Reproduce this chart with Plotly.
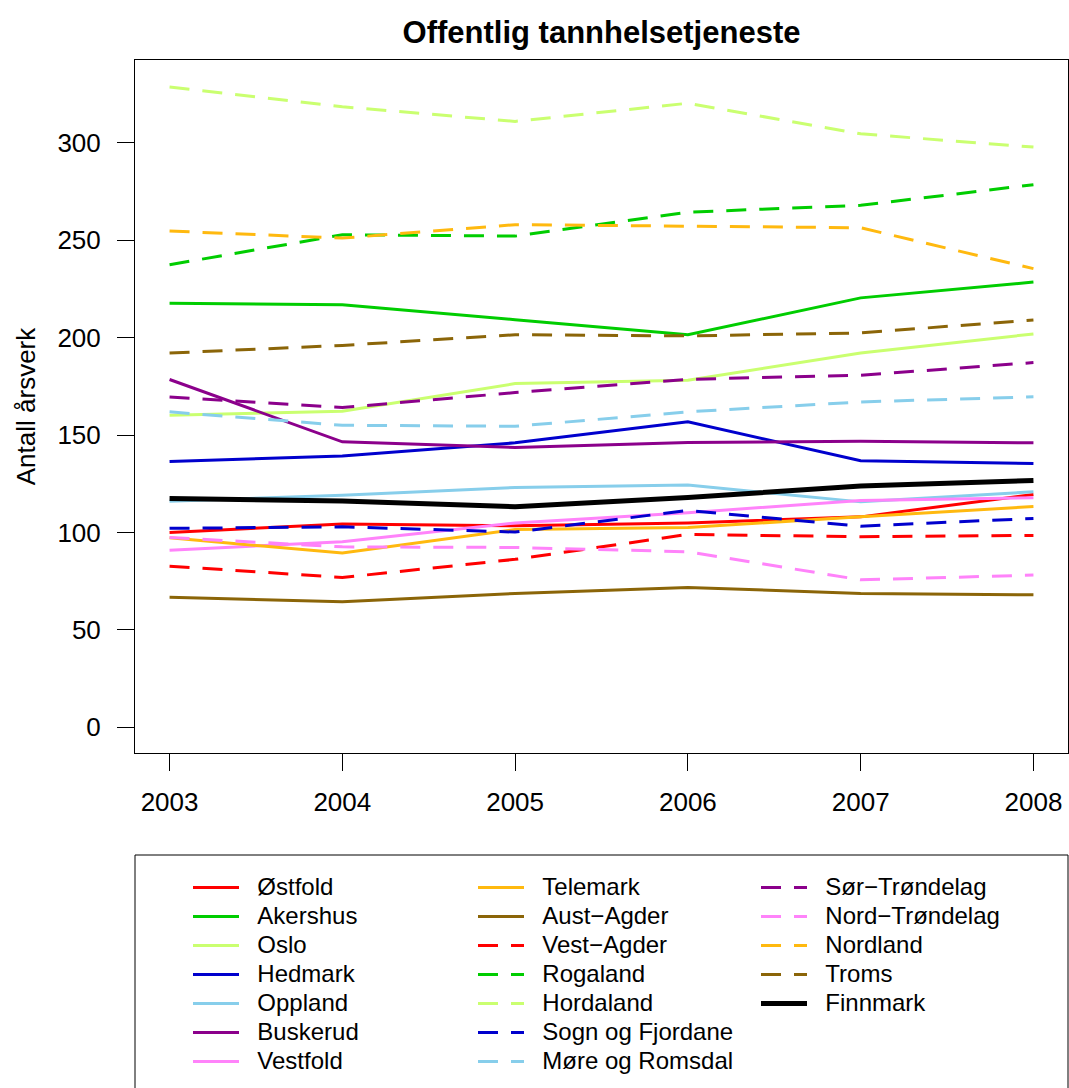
import plotly.graph_objects as go

years = [2003, 2004, 2005, 2006, 2007, 2008]

ostfold = [100.0, 104.4, 103.4, 104.9, 108.0, 119.5]
akershus = [217.6, 216.9, 209.2, 201.5, 220.4, 228.5]
oslo = [160.2, 162.2, 176.4, 178.1, 192.1, 201.9]
hedmark = [136.4, 139.3, 146.0, 156.8, 136.8, 135.4]
oppland = [116.0, 119.1, 123.1, 124.3, 115.7, 120.9]
buskerud = [178.5, 146.5, 143.6, 146.2, 146.8, 146.0]
vestfold = [90.9, 95.2, 104.9, 110.1, 116.4, 117.8]
telemark = [97.3, 89.4, 101.5, 102.6, 108.0, 113.3]
aust_agder = [66.7, 64.4, 68.7, 71.8, 68.7, 68.0]
vest_agder = [82.7, 76.9, 86.2, 99.0, 97.8, 98.5]
rogaland = [237.4, 252.8, 252.1, 264.4, 267.9, 278.5]
hordaland = [328.6, 318.5, 311.0, 320.3, 304.6, 297.8]
sogn_fjordane = [102.1, 102.9, 100.2, 111.3, 103.2, 107.2]
more_romsdal = [161.9, 155.0, 154.5, 161.9, 167.0, 169.6]
sor_trondelag = [169.5, 164.1, 171.8, 178.6, 180.7, 187.2]
nord_trondelag = [97.4, 92.6, 92.3, 90.1, 75.7, 78.1]
nordland = [254.7, 251.1, 258.0, 257.3, 256.4, 235.4]
troms = [192.1, 196.0, 201.5, 200.9, 202.4, 209.1]
finnmark = [117.4, 116.2, 113.2, 117.9, 123.9, 126.7]

names = ["Østfold", "Akershus", "Oslo", "Hedmark", "Oppland", "Buskerud", "Vestfold",
         "Telemark", "Aust\u2212Agder", "Vest\u2212Agder", "Rogaland", "Hordaland",
         "Sogn og Fjordane", "Møre og Romsdal", "Sør\u2212Trøndelag", "Nord\u2212Trøndelag",
         "Nordland", "Troms", "Finnmark"]
series = [ostfold, akershus, oslo, hedmark, oppland, buskerud, vestfold,
          telemark, aust_agder, vest_agder, rogaland, hordaland,
          sogn_fjordane, more_romsdal, sor_trondelag, nord_trondelag,
          nordland, troms, finnmark]

colors = ["#FF0000", "#00CD00", "#CAFF70", "#0000CD", "#87CEEB", "#8B008B", "#FF83FA",
          "#FFB90F", "#8B6508", "#FF0000", "#00CD00", "#CAFF70", "#0000CD", "#87CEEB",
          "#8B008B", "#FF83FA", "#FFB90F", "#8B6508", "#000000"]
dashed = [False] * 9 + [True] * 9 + [False]
widths = [3] * 18 + [5]
legend_ids = ["legend"] * 7 + ["legend2"] * 7 + ["legend3"] * 5

FONT = "Liberation Sans, Arial, sans-serif"

fig = go.Figure()
for i, (nm, ys) in enumerate(zip(names, series)):
    fig.add_trace(go.Scatter(
        x=years, y=ys, mode="lines",
        name='<span style="font-size:24px">\u00a0\u00a0' + nm + '</span>',
        line=dict(color=colors[i], width=widths[i],
                  dash="20px,13px" if dashed[i] else "solid"),
        legend=legend_ids[i],
    ))

W, H = 1069, 1088
L, R, T, B = 135, 1, 60, 335
ph = H - T - B
pw = W - L - R

def px_x(p):
    return (p - L) / pw

def px_y(p):
    return (H - B - p) / ph

leg_common = dict(orientation="v", font=dict(family=FONT, size=20, color="black"),
                  bgcolor="rgba(0,0,0,0)", borderwidth=0, itemwidth=46,
                  xanchor="left", yanchor="top", tracegroupgap=0,
                  itemclick=False, itemdoubleclick=False)

fig.update_layout(
    width=W, height=H,
    margin=dict(l=L, r=R, t=T, b=B, autoexpand=False),
    paper_bgcolor="white", plot_bgcolor="white",
    font=dict(family=FONT, size=26, color="black"),
    title=dict(text="<b>Offentlig tannhelsetjeneste</b>", x=px_x(601.5), xref="paper",
               xanchor="center", y=1 - 32 / H, yanchor="middle",
               font=dict(family=FONT, size=31, color="black")),
    xaxis=dict(range=[2002.8, 2008.2], tickvals=years, ticktext=[str(y) for y in years],
               showgrid=False, zeroline=False, showline=True, linecolor="black",
               linewidth=1, mirror=True, ticks="outside", ticklen=17, tickwidth=1,
               tickcolor="black", ticklabelstandoff=9,
               tickfont=dict(family=FONT, size=26, color="black")),
    yaxis=dict(range=[-13.2, 342.5], tickvals=[0, 50, 100, 150, 200, 250, 300],
               showgrid=False, zeroline=False, showline=True, linecolor="black",
               linewidth=1, mirror=True, ticks="outside", ticklen=17, tickwidth=1,
               tickcolor="black", ticklabelstandoff=11,
               tickfont=dict(family=FONT, size=26, color="black"),
               title=dict(text="Antall årsverk", standoff=14,
                          font=dict(family=FONT, size=26, color="black"))),
    legend=dict(x=px_x(188), y=px_y(868), **leg_common),
    legend2=dict(x=px_x(473), y=px_y(868), **leg_common),
    legend3=dict(x=px_x(756), y=px_y(868), **leg_common),
    shapes=[dict(type="rect", xref="paper", yref="paper",
                 x0=0, x1=1, y0=px_y(1120), y1=px_y(855),
                 line=dict(color="black", width=1), fillcolor="rgba(0,0,0,0)")],
    showlegend=True,
)

fig.write_html("out.html",
               config={"displayModeBar": False},
               post_script="document.body.style.margin='0px';document.body.style.overflow='hidden';")
